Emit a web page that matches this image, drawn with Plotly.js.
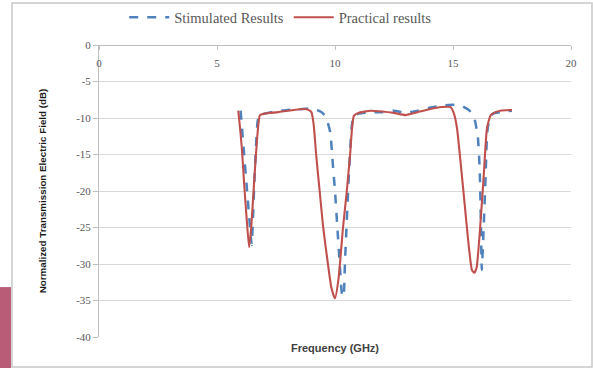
<!DOCTYPE html>
<html>
<head>
<meta charset="utf-8">
<script src="https://cdn.plot.ly/plotly-3.0.1.min.js"></script>
<style>html,body{margin:0;padding:0;background:#fff;}#chart{width:593px;height:368px;}</style>
</head>
<body>
<div id="chart"></div>
<script>
// Data
var simFreq = [6.0, 6.05, 6.15, 6.25, 6.35, 6.47, 6.52, 6.58, 6.65, 6.72, 6.8, 7.0, 7.5, 8.0, 8.5, 9.0, 9.3, 9.5, 9.65, 9.8, 9.9, 10.0, 10.1, 10.2, 10.3, 10.36, 10.42, 10.5, 10.6, 10.7, 10.8, 11.0, 11.5, 12.0, 12.5, 13.0, 13.5, 14.0, 14.5, 15.0, 15.4, 15.7, 15.9, 16.05, 16.13, 16.18, 16.22, 16.3, 16.38, 16.45, 16.55, 16.7, 17.0, 17.5];
var simVal  = [-9.0, -11, -15, -19, -23, -27.4, -24, -19, -14, -10.5, -9.5, -9.4, -9.1, -8.9, -8.8, -8.7, -9.0, -9.4, -10.2, -12, -16, -20, -25, -30, -34.2, -34.5, -30, -24, -17, -11.5, -9.6, -9.4, -9.2, -9.2, -9.0, -9.3, -9.0, -8.6, -8.3, -8.2, -8.4, -9.0, -10, -12.5, -17, -24, -30.8, -25, -18, -12, -10, -9.4, -9.2, -9.0];
var pracFreq = [5.9, 5.95, 6.05, 6.15, 6.25, 6.36, 6.45, 6.55, 6.65, 6.75, 6.82, 7.0, 7.6, 8.0, 8.5, 8.8, 9.0, 9.1, 9.2, 9.35, 9.5, 9.7, 9.85, 10.0, 10.15, 10.34, 10.5, 10.64, 10.72, 10.8, 11.0, 11.5, 12.0, 12.5, 13.0, 13.5, 14.0, 14.5, 14.9, 15.05, 15.17, 15.35, 15.5, 15.65, 15.8, 15.9, 16.0, 16.15, 16.3, 16.44, 16.6, 16.8, 17.0, 17.5];
var pracVal  = [-9.0, -10.5, -14, -19, -23.5, -27.7, -25, -20, -15, -11, -9.6, -9.4, -9.2, -9.0, -8.8, -8.8, -9.2, -11, -15, -20, -25, -30, -33.3, -34.7, -32, -25, -20, -15, -11.5, -9.7, -9.3, -9.0, -9.1, -9.3, -9.6, -9.2, -8.8, -8.5, -8.5, -9.5, -11.4, -17, -22, -27, -30.8, -31.2, -30.5, -25, -18, -11.4, -9.6, -9.2, -9.0, -8.9];
var xTicks = [0, 5, 10, 15, 20];
var yTicks = [0, -5, -10, -15, -20, -25, -30, -35, -40];

var traces = [
  {x: simFreq, y: simVal, type: 'scatter', mode: 'lines', name: 'Stimulated Results',
   line: {color: '#4F81BD', width: 2.5, dash: 'dash', shape: 'spline', smoothing: 0.5}},
  {x: pracFreq, y: pracVal, type: 'scatter', mode: 'lines', name: 'Practical results',
   line: {color: '#C0504D', width: 2.1, shape: 'spline', smoothing: 0.5}}
];

var serif = 'Liberation Serif, DejaVu Serif, serif';
var layout = {
  width: 593, height: 368,
  margin: {l: 99, r: 22, t: 45, b: 31, autoexpand: false},
  paper_bgcolor: '#ffffff', plot_bgcolor: '#ffffff',
  showlegend: true,
  legend: {orientation: 'h', x: 0.385, xanchor: 'center', yref: 'container', y: 0.953, yanchor: 'middle',
           itemwidth: 40,
           font: {family: serif, size: 14.5, color: '#595959'}, bgcolor: 'rgba(0,0,0,0)'},
  xaxis: {range: [0, 20], anchor: 'free', position: 1, side: 'bottom',
          tickvals: xTicks, ticktext: xTicks.map(String), ticklabelstandoff: 4,
          showline: true, linecolor: '#bfbfbf', linewidth: 1, ticks: 'outside', ticklen: 4, tickcolor: '#bfbfbf',
          showgrid: false, zeroline: false,
          tickfont: {family: serif, size: 11, color: '#595959'}},
  yaxis: {range: [-40, 0], tickvals: yTicks, ticktext: yTicks.map(String),
          showline: true, linecolor: '#bfbfbf', linewidth: 1, ticks: 'outside', ticklen: 5, tickcolor: '#bfbfbf',
          showgrid: true, gridcolor: '#d9d9d9', gridwidth: 1, zeroline: false,
          tickfont: {family: serif, size: 11, color: '#595959'},
          title: {text: 'Normalized Transmission Electric Field (dB)', standoff: 27,
                  font: {family: 'Liberation Sans Narrow, Liberation Sans, sans-serif', size: 9.8, color: '#1a1a1a', weight: 'bold'}}},
  annotations: [
    {text: '<b>Frequency (GHz)</b>', xref: 'paper', yref: 'paper', x: 0.5, y: -0.038,
     xanchor: 'center', yanchor: 'middle', showarrow: false,
     font: {family: 'Liberation Sans, Arial, sans-serif', size: 11, color: '#404040'}}
  ],
  shapes: [
    {type: 'rect', xref: 'paper', yref: 'paper', x0: -0.1843, x1: 1.0445, y0: -0.1027, y1: 1.1438,
     line: {color: '#c8c8c8', width: 1.5}, fillcolor: 'rgba(0,0,0,0)', layer: 'below'},
    {type: 'rect', xref: 'paper', yref: 'paper', x0: -0.2097, x1: -0.1864, y0: -0.11, y1: 0.171,
     line: {width: 0}, fillcolor: '#b85c78', layer: 'below'}
  ]
};

Plotly.newPlot('chart', traces, layout, {displayModeBar: false, staticPlot: true});
</script>
</body>
</html>
